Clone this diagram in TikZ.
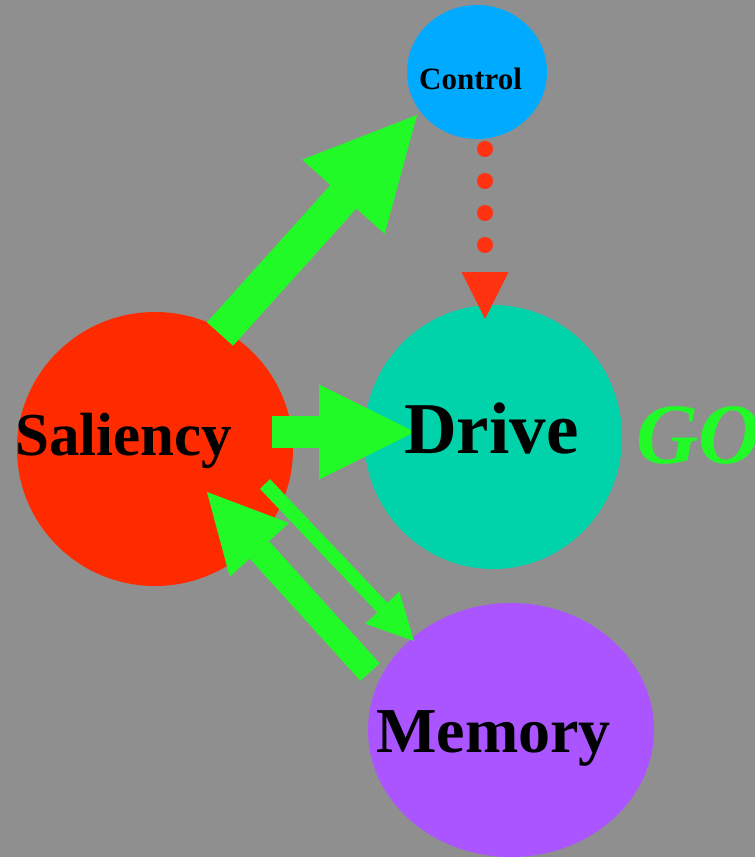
\documentclass[tikz,border=0pt]{standalone}
\usepackage{fontspec}
\setmainfont{Liberation Serif}
\usetikzlibrary{arrows.meta,calc,shapes.geometric}
\definecolor{bggray}{HTML}{8F8F8F}
\definecolor{salred}{HTML}{FF2B00}
\definecolor{driveteal}{HTML}{00D3AA}
\definecolor{ctrlblue}{HTML}{00AAFF}
\definecolor{mempurple}{HTML}{AA55FF}
\definecolor{arrgreen}{HTML}{22FA28}
\definecolor{dotred}{HTML}{FF3311}
\tikzset{
  blob/.style={ellipse, draw=none, inner sep=0pt},
  lbl/.style={anchor=base west, inner sep=0pt, font=\bfseries},
  bigarrow/.style n args={3}{draw=arrgreen, line width=#1,
    -{Triangle[length=#2, width=#3, line width=0pt, fill=arrgreen]}},
}
\begin{document}
\begin{tikzpicture}[x=1pt,y=-1pt]
\fill[bggray] (0,0) rectangle (755,857);
\useasboundingbox (0,0) rectangle (755,857);
% shapes
\node[blob, fill=ctrlblue, minimum width=140pt, minimum height=134pt] (ctrl) at (477,72) {};
\node[blob, fill=salred, minimum width=276pt, minimum height=274pt] (sal) at (155,449) {};
\node[blob, fill=driveteal, minimum width=258pt, minimum height=264pt] (drive) at (493,437) {};
\node[blob, fill=mempurple, minimum width=286pt, minimum height=254pt] (mem) at (511,730) {};
% connectors
\draw[bigarrow={35pt}{110pt}{111pt}] ($(sal.center)+(65,-115)$) -- ($(ctrl.center)+(-60,43)$);
\draw[bigarrow={32pt}{96pt}{95pt}] ($(sal.center)+(117,-17)$) -- ($(drive.center)+(-78,-5)$);
\draw[bigarrow={14pt}{46pt}{47pt}] ($(sal.center)+(110,35)$) -- ($(mem.center)+(-97,-89)$);
\draw[bigarrow={26pt}{78pt}{80pt}] ($(mem.center)+(-141,-58)$) -- ($(sal.center)+(52,43)$);
\draw[dotred, line width=16pt, line cap=round, dash pattern=on 0pt off 32pt,
  -{Triangle[length=47pt, width=47pt, line width=0pt, fill=dotred]}]
  ($(ctrl.center)+(8,77)$) -- ($(drive.center)+(-8,-118)$);
% labels
\node[lbl, font=\bfseries\fontsize{31}{31}\selectfont] (tctrl) at (419,89) {Control};
\node[lbl, font=\bfseries\fontsize{61}{61}\selectfont] (tsal) at (15,455) {Saliency};
\node[lbl, font=\bfseries\fontsize{73}{73}\selectfont] (tdrive) at (404,453) {Drive};
\node[lbl, font=\bfseries\fontsize{64}{64}\selectfont] (tmem) at (376,752) {Memory};
\node[lbl, font=\bfseries\itshape\fontsize{86}{86}\selectfont, text=arrgreen] (tgo) at (636,463) {GO};
\end{tikzpicture}
\end{document}
